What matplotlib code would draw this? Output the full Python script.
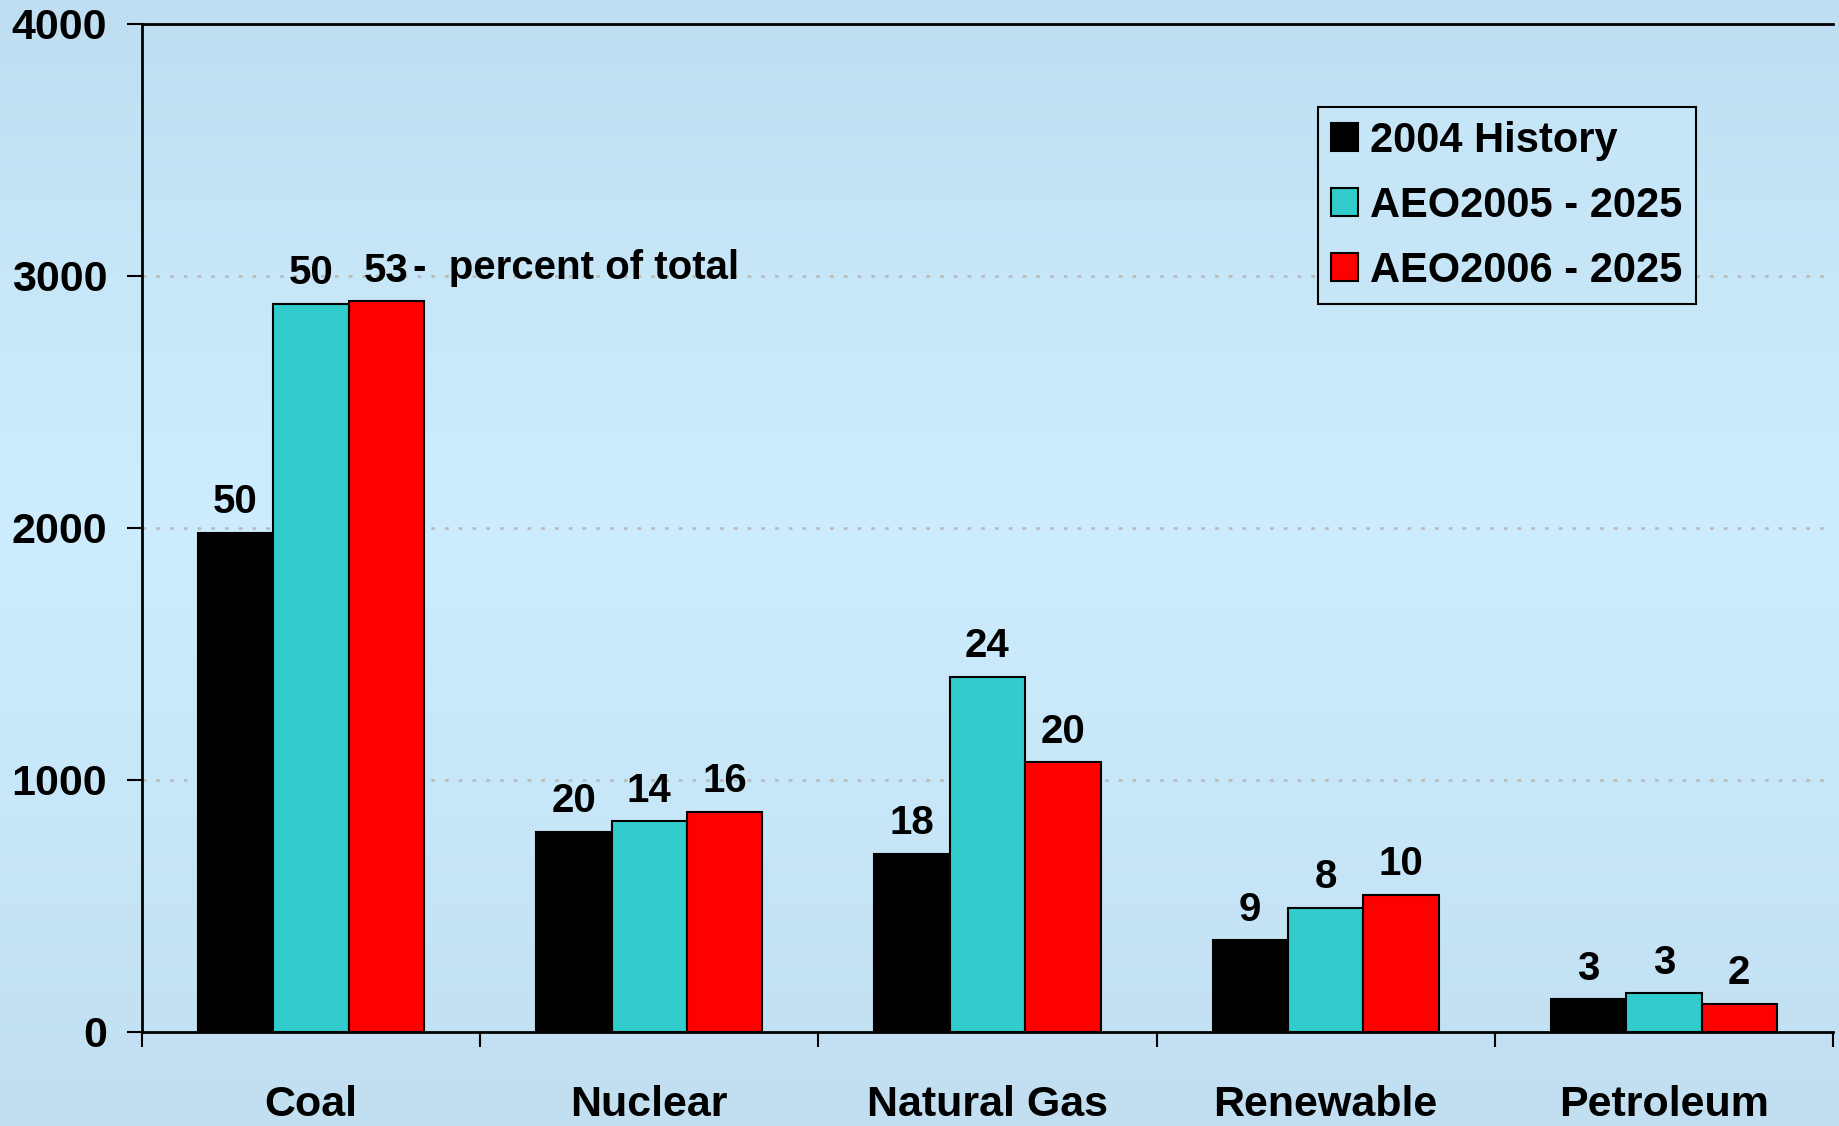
import numpy as np
import matplotlib
matplotlib.use("Agg")
import matplotlib.pyplot as plt
from matplotlib.colors import LinearSegmentedColormap
from matplotlib.patches import Patch

plt.rcParams['font.family'] = ['Liberation Sans', 'DejaVu Sans']
plt.rcParams['font.weight'] = 'bold'

categories = ["Coal", "Nuclear", "Natural Gas", "Renewable", "Petroleum"]
series_names = ["2004 History", "AEO2005 - 2025", "AEO2006 - 2025"]
history_2004 = [1980, 795, 707, 363, 130]
aeo2005 = [2888, 837, 1409, 493, 153]
aeo2006 = [2898, 874, 1070, 544, 112]
pct_2004 = ["50", "20", "18", "9", "3"]
pct_2005 = ["50", "14", "24", "8", "3"]
pct_2006 = ["53", "16", "20", "10", "2"]
yticks = [0, 1000, 2000, 3000, 4000]

colors = ["#000000", "#33CCCC", "#FF0000"]

fig = plt.figure(figsize=(18.39, 11.26), dpi=100)

# background gradient
bg = fig.add_axes([0, 0, 1, 1], zorder=-10)
cmap = LinearSegmentedColormap.from_list(
    "bg", [(0, "#C0DEF1"), (0.45, "#CDEDFE"), (1, "#C1DFF1")])
bg.imshow(np.linspace(0, 1, 256).reshape(-1, 1), aspect="auto", cmap=cmap,
          extent=[0, 1, 0, 1])
bg.set_axis_off()

ax = fig.add_axes([0.0772, 0.0835, 0.9195, 0.8956])
ax.set_facecolor("none")

x = np.arange(len(categories))
w = 0.223
series = [history_2004, aeo2005, aeo2006]
labels = [pct_2004, pct_2005, pct_2006]
for i, (vals, lab) in enumerate(zip(series, labels)):
    xs = x + (i - 1) * w
    ax.bar(xs, vals, w, color=colors[i], edgecolor="black", linewidth=1.5,
           label=series_names[i], zorder=3)
    for xi, v, t in zip(xs, vals, lab):
        ax.annotate(t, (xi, v), xytext=(0, 14), textcoords="offset points",
                    ha="center", va="baseline", fontsize=29, fontweight="bold")

ax.annotate("-  percent of total", (x[0] + w + w * 0.35, aeo2006[0]),
            xytext=(0, 16), textcoords="offset points",
            ha="left", va="baseline", fontsize=29, fontweight="bold")

ax.set_xlim(-0.5, len(categories) - 0.5)
ax.set_ylim(0, 4000)
ax.set_yticks(yticks)
ax.set_xticks(x)
ax.set_xticklabels(categories)
ax.set_xticks(np.arange(-0.5, len(categories), 1.0), minor=True)
ax.tick_params(axis="x", which="major", length=0, pad=38, labelsize=31)
ax.tick_params(axis="x", which="minor", length=11, width=1.5, direction="out")
ax.tick_params(axis="y", length=11, width=1.5, direction="out", pad=14,
               labelsize=31)

ax.yaxis.grid(True, linestyle=(0, (1.5, 4)), color="#B8B8B8", linewidth=1.8,
              zorder=0)
for s in ["left", "bottom", "top"]:
    ax.spines[s].set_linewidth(2)
    ax.spines[s].set_zorder(5)
ax.spines["right"].set_visible(False)

handles = [Patch(facecolor=c, edgecolor="black", linewidth=1.5) for c in colors]
leg = ax.legend(handles, series_names, loc="upper left",
                bbox_to_anchor=(0.6955, 0.917), borderaxespad=0,
                prop={"size": 30, "weight": "bold"}, frameon=True,
                fancybox=False, edgecolor="black", facecolor="#C6E6F8",
                framealpha=1, handlelength=0.63, handleheight=0.63,
                handletextpad=0.3, labelspacing=0.6, borderpad=0.32)
leg.get_frame().set_linewidth(1.5)

fig.savefig("out.png", dpi=100)
